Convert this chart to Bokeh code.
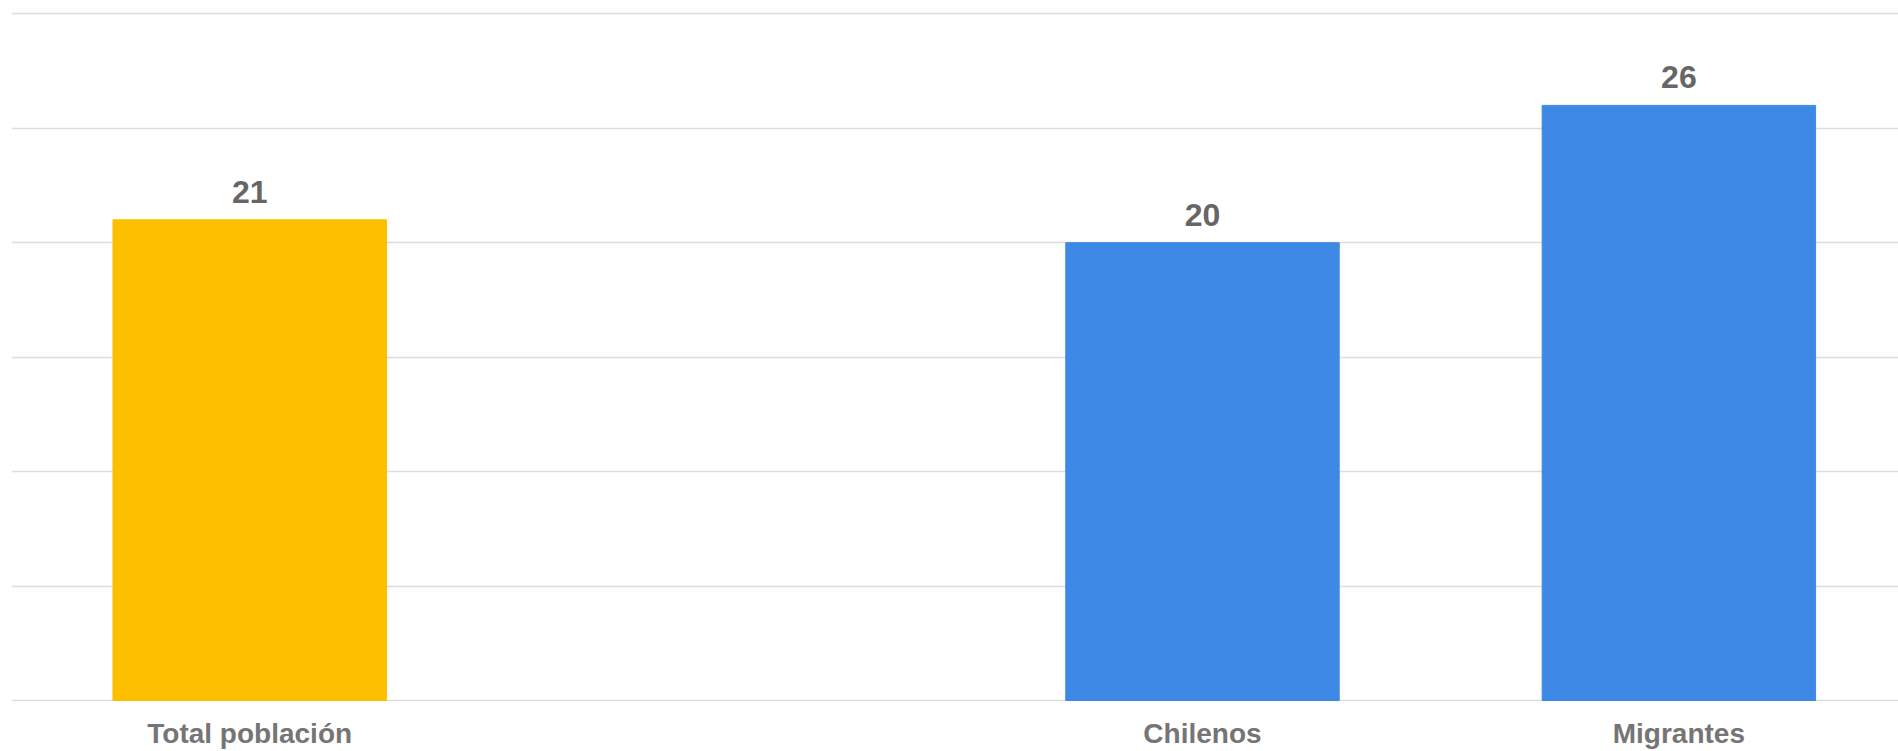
from bokeh.plotting import figure
from bokeh.models import Range1d, FixedTicker, ColumnDataSource
from bokeh.core.properties import value
from bokeh.embed import file_html
from bokeh.resources import INLINE

# ---- data ----
categories = ["Total población", "", "Chilenos", "Migrantes"]
values = [21, None, 20, 26]
colors = ["#FDBF00", None, "#3D89E5", "#3D89E5"]
y_ticks = [0, 5, 10, 15, 20, 25, 30]

# slot positions on a numeric axis, one per category
xs = [i + 0.5 for i in range(len(categories))]
keep = [i for i, v in enumerate(values) if v is not None]
src = ColumnDataSource(dict(
    x=[xs[i] for i in keep],
    top=[values[i] for i in keep],
    color=[colors[i] for i in keep],
    label=[str(values[i]) for i in keep],
))

W, H = 1898, 751
p = figure(width=W, height=H, output_backend="svg", toolbar_location=None,
           x_range=Range1d(0, 3.961), y_range=Range1d(-0.044, 30.19),
           min_border_left=11, min_border_right=0, min_border_top=9,
           min_border_bottom=0)
p.outline_line_color = None
p.background_fill_color = "white"
p.border_fill_color = "white"

# y axis: hidden, grid only
p.yaxis.visible = False
p.yaxis.ticker = FixedTicker(ticks=y_ticks)
p.ygrid.ticker = FixedTicker(ticks=y_ticks)
p.ygrid.grid_line_color = "#dddddd"
p.ygrid.grid_line_width = 1.5
p.xgrid.visible = False

p.vbar(x="x", top="top", bottom=0, width=0.574, color="color", source=src)
p.text(x="x", y="top", text="label", source=src, text_align="center",
       text_baseline="alphabetic", y_offset=-28, text_font=value("Liberation Sans"),
       text_font_style="bold", text_font_size="32px", text_color="#666666")

xa = p.xaxis[0]
xa.ticker = FixedTicker(ticks=[xs[i] for i in keep])
xa.major_label_overrides = {xs[i]: categories[i] for i in keep}
xa.axis_line_color = None
xa.major_tick_line_color = None
xa.minor_tick_line_color = None
xa.major_tick_out = 0
xa.major_tick_in = 0
xa.major_label_standoff = 16
xa.major_label_text_font = "Liberation Sans"
xa.major_label_text_font_style = "bold"
xa.major_label_text_font_size = "28px"
xa.major_label_text_color = "#757575"

open("out.html", "w").write(file_html(p, INLINE))
